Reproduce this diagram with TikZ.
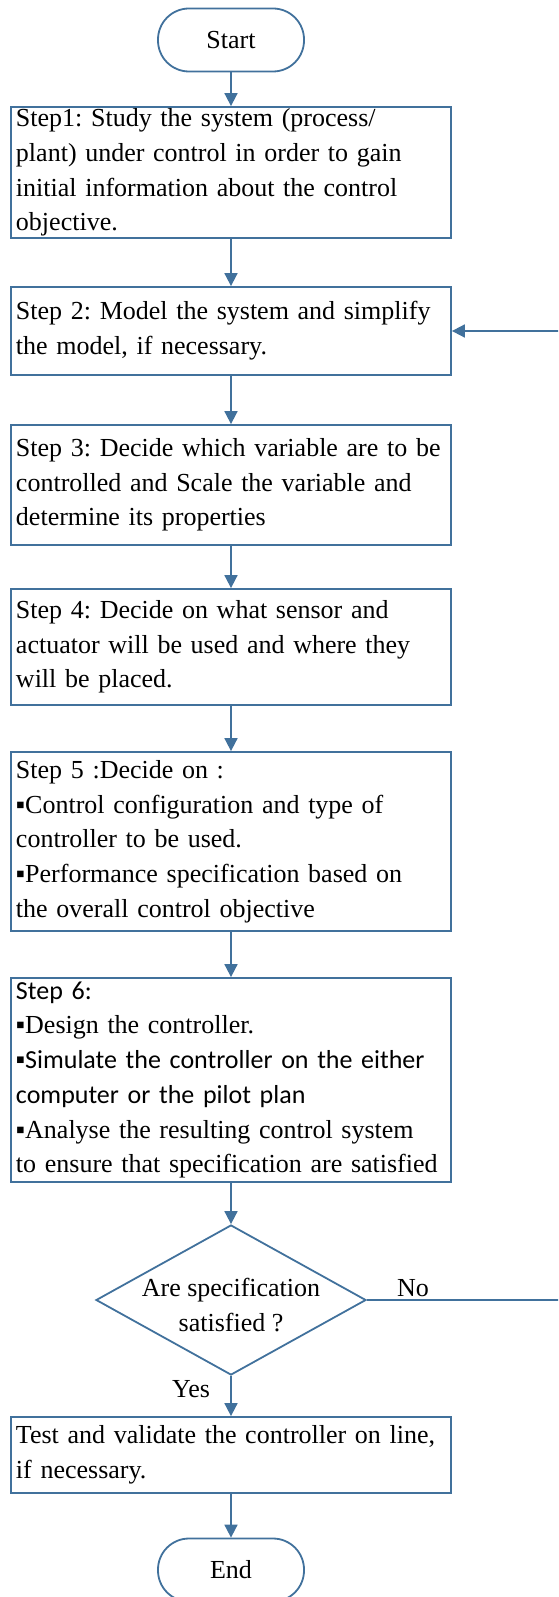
\documentclass[tikz,border=0pt]{standalone}
\usepackage{fontspec}
\setmainfont{Liberation Serif}
\newfontfamily\calibrifont{Carlito}
\usepackage{xcolor}
\usepackage{tikz}
\usetikzlibrary{shapes,arrows.meta,positioning,calc}
\frenchspacing

\definecolor{flowblue}{RGB}{65,113,156}

\tikzset{
    stepbox/.style={draw=flowblue, line width=1.8pt, rectangle, minimum width=440pt,
        text width=430pt, inner xsep=5pt, inner ysep=0pt, align=left},
    termbox/.style={draw=flowblue, line width=1.8pt, rounded corners=31pt,
        minimum width=146pt, minimum height=63pt, inner sep=0pt},
    decbox/.style={draw=flowblue, line width=1.8pt, diamond, minimum width=270pt,
        minimum height=150pt, inner sep=0pt},
    flowarrow/.style={draw=flowblue, line width=1.8pt, -{Triangle[width=13pt,length=13pt]}}
}

\begin{document}
\begin{tikzpicture}[x=1pt, y=-1pt, every node/.style={font=\fontsize{26}{34.7}\selectfont}]
    \useasboundingbox (0,0) rectangle (558,1597);
    \clip (0,0) rectangle (558,1597);

    % Terminals
    \node[termbox] (start) at (231,40) {Start};
    \node[termbox] (stop) at (231,1570) {End};

    % Steps
    \node[stepbox, minimum height=131pt] (s1) at (231,172.5) {Step1: Study the system (process/\\
        plant) under control in order to gain\\
        initial information about the control\\
        objective.};
    \node[stepbox, minimum height=88pt] (s2) at (231,331) {Step 2: Model the system and simplify\\
        the model, if necessary.};
    \node[stepbox, minimum height=120pt] (s3) at (231,485) {Step 3: Decide which variable are to be\\
        controlled and Scale the variable and\\
        determine its properties};
    \node[stepbox, minimum height=116pt] (s4) at (231,647) {Step 4: Decide on what sensor and\\
        actuator will be used and where they\\
        will be placed.};
    \node[stepbox, minimum height=179pt] (s5) at (231,841.5) {Step 5 :Decide on :\\
        ▪Control configuration and type of\\
        controller to be used.\\
        ▪Performance specification based on\\
        the overall control objective};
    \node[stepbox, minimum height=204pt] (s6) at (231,1080) {{\calibrifont Step 6:}\\
        ▪Design the controller.\\
        {\calibrifont ▪Simulate the controller on the either}\\
        {\calibrifont computer or the pilot plan}\\
        ▪Analyse the resulting control system\\
        to ensure that specification are satisfied};

    % Decision
    \node[decbox] (check) at (231,1300) {};
    \node[align=center, inner sep=0pt] (checktext) at (231,1305) {Are specification\\ satisfied ?};
    \node[anchor=base, inner sep=0pt] (nolbl) at (413,1296) {No};
    \node[anchor=base, inner sep=0pt] (yeslbl) at (191,1397) {Yes};

    \node[stepbox, minimum height=76pt] (test) at (231,1455) {Test and validate the controller on line,\\
        if necessary.};

    % Connectors
    \draw[flowarrow] (start) -- (s1);
    \draw[flowarrow] (s1) -- (s2);
    \draw[flowarrow] (s2) -- (s3);
    \draw[flowarrow] (s3) -- (s4);
    \draw[flowarrow] (s4) -- (s5);
    \draw[flowarrow] (s5) -- (s6);
    \draw[flowarrow] (s6) -- (check);
    \draw[flowarrow] (check) -- (test);
    \draw[flowarrow] (test) -- (stop);

    % Feedback loop
    \coordinate (fbcorner) at (568,1300);
    \draw[flowarrow] (check.east) -- (fbcorner) |- (s2.east);
\end{tikzpicture}
\end{document}
